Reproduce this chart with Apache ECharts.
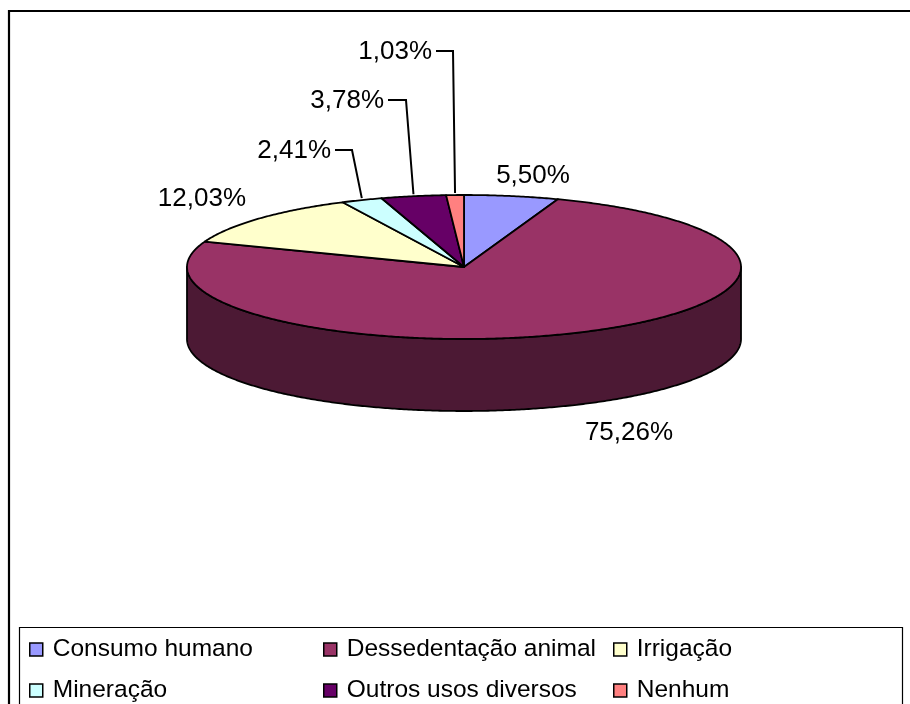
<!DOCTYPE html>
<html><head><meta charset="utf-8">
<script src="https://cdn.jsdelivr.net/npm/echarts@6/dist/echarts.min.js"></script>
<style>html,body{margin:0;padding:0;background:#fff}#c{width:910px;height:704px}</style>
</head><body><div id="c"></div>
<script>
// ---- data ----
const categories = ['Consumo humano','Dessedentação animal','Irrigação','Mineração','Outros usos diversos','Nenhum'];
const values = [5.50, 75.26, 12.03, 2.41, 3.78, 1.03];
const legendColumns = [[0,3],[1,4],[2,5]];

// ---- styles / layout ----
const colors = ['#9999ff','#993366','#ffffcc','#ccffff','#660066','#ff8080'];
const sideColors = ['#4d4d80','#4c1934','#808066','#668080','#330033','#804040'];
const FONT = '"Liberation Sans", Arial, Helvetica, sans-serif';
const PIE = {cx:464, cy:267, rx:277, ry:72, depth:72};
const LABELS = [
  {x:533, y:176, align:'center'},
  {x:629, y:433, align:'center'},
  {x:246, y:199, align:'right'},
  {x:331, y:151, align:'right', leader:[335,352]},
  {x:384, y:101, align:'right', leader:[388,406]},
  {x:432, y:52,  align:'right', leader:[436,453]}
];
const legendLeft = [29, 323, 613];

const total = values.reduce((a,b)=>a+b,0);
function fmt(v){ return v.toFixed(2).replace('.',',') + '%'; }
function pt(a, dy){
  const r = a*Math.PI/180;
  return [PIE.cx + PIE.rx*Math.sin(r), PIE.cy - PIE.ry*Math.cos(r) + (dy||0)];
}
function arc(a0, a1, dy){
  const pts = [];
  const n = Math.max(2, Math.ceil((a1-a0)/0.5));
  for (let k=0;k<=n;k++) pts.push(pt(a0 + (a1-a0)*k/n, dy));
  return pts;
}

function makeRender(i){
  return function(params, api){
    const v = api.value(0);
    let start = 0;
    for (let k=0;k<i;k++) start += values[k];
    const a0 = start/total*360, a1 = (start+v)/total*360;
    const children = [];
    // side wall (front-facing part only)
    const s = Math.max(a0, 90), e = Math.min(a1, 270);
    if (e > s){
      const top = arc(s, e, 0);
      const bot = arc(s, e, PIE.depth).reverse();
      children.push({type:'polygon', z2:1, shape:{points: top.concat(bot)},
        style:{fill: sideColors[i], stroke:'#000', lineWidth:1.8, lineJoin:'round'}});
    }
    // top face
    const pts = [[PIE.cx, PIE.cy]].concat(arc(a0, a1, 0));
    children.push({type:'polygon', z2:10, shape:{points: pts},
      style:{fill: colors[i], stroke:'#000', lineWidth:1.8, lineJoin:'round'}});
    // label
    const L = LABELS[i];
    children.push({type:'text', z2:30, style:{x:L.x, y:L.y, text: fmt(v), fontSize:26,
      fontFamily: FONT, fill:'#000', align:L.align, verticalAlign:'middle'}});
    if (L.leader){
      const mid = pt((a0+a1)/2, 0);
      const ly = Math.round(L.y) - 1;
      children.push({type:'polyline', z2:30, shape:{points:[[L.leader[0], ly],[L.leader[1], ly],[mid[0], mid[1]-2]]},
        style:{stroke:'#000', lineWidth:2, fill:null}});
    }
    return {type:'group', children};
  };
}

const series = categories.map((name, i) => ({
  type:'custom', name, coordinateSystem:'none', silent:true,
  emphasis:{disabled:true},
  itemStyle:{color: colors[i], borderColor:'#000', borderWidth:1},
  data:[values[i]],
  renderItem: makeRender(i)
}));

const legends = legendColumns.map((col, c) => ({
  data: col.map(k => categories[k]),
  orient:'vertical', left: legendLeft[c], top: 637, padding:0,
  itemGap:16, itemWidth:13, itemHeight:13, icon:'rect', selectedMode:false,
  itemStyle:{borderColor:'#000', borderWidth:1.5},
  textStyle:{fontSize:24.5, fontFamily: FONT, color:'#000', lineHeight:24, padding:[0,0,0,5]}
}));

const chart = echarts.init(document.getElementById('c'), null, {renderer:'canvas'});
chart.setOption({
  animation:false,
  backgroundColor:'#fff',
  graphic:[
    {type:'rect', z:-1, shape:{x:9, y:11, width:1000, height:1000}, style:{fill:'none', stroke:'#000', lineWidth:2.2}},
    {type:'rect', z:-1, shape:{x:19.5, y:627.5, width:883, height:200}, style:{fill:'none', stroke:'#000', lineWidth:1.2}}
  ],
  legend: legends,
  series
});
</script></body></html>
